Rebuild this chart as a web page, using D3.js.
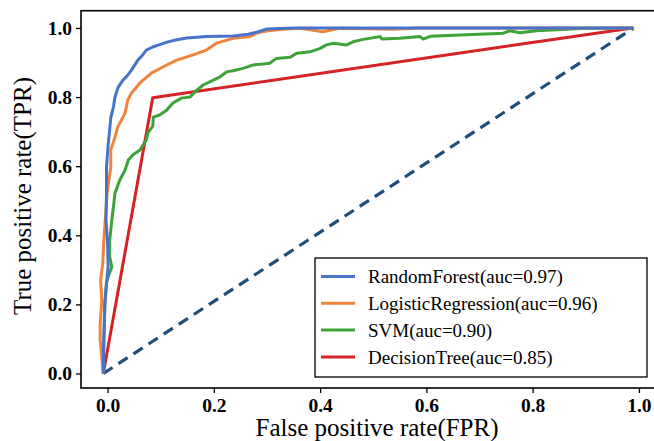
<!DOCTYPE html>
<html>
<head>
<meta charset="utf-8">
<title>ROC</title>
<style>
  html, body { margin: 0; padding: 0; background: #fff; }
  svg { display: block; }
</style>
<script src="https://d3js.org/d3.v7.min.js"></script>
</head>
<body>
<svg id="chart"></svg>
<script>
// values: [fpr, tpr]
const randomForest = [
  [-0.008, 0], [-0.008, 0.05], [-0.006, 0.15], [-0.005, 0.2], [-0.002, 0.26], [0.001, 0.31],
  [0.0, 0.38], [-0.003, 0.444], [-0.002, 0.52], [-0.002, 0.597], [-0.001, 0.618], [0.001, 0.66],
  [0.004, 0.705], [0.006, 0.74], [0.011, 0.771], [0.014, 0.80], [0.020, 0.829], [0.029, 0.849],
  [0.036, 0.86], [0.045, 0.878], [0.057, 0.907], [0.065, 0.92], [0.073, 0.936], [0.085, 0.945],
  [0.098, 0.952], [0.112, 0.959], [0.130, 0.966], [0.149, 0.971], [0.187, 0.975], [0.236, 0.977],
  [0.265, 0.982], [0.281, 0.988], [0.30, 0.997], [0.35, 1.0], [0.99, 1.0]
];
const logisticRegression = [
  [-0.008, 0], [-0.014, 0.097], [-0.014, 0.14], [-0.011, 0.21], [-0.013, 0.27], [-0.009, 0.32],
  [-0.007, 0.386], [-0.003, 0.473], [-0.001, 0.522], [0.006, 0.597], [0.006, 0.647], [0.014, 0.684],
  [0.019, 0.713], [0.033, 0.754], [0.038, 0.792], [0.045, 0.812], [0.061, 0.841], [0.083, 0.870],
  [0.104, 0.887], [0.130, 0.907], [0.161, 0.922], [0.186, 0.936], [0.205, 0.956], [0.236, 0.970],
  [0.268, 0.975], [0.280, 0.985], [0.299, 0.991], [0.33, 0.996], [0.362, 0.999], [0.405, 0.989],
  [0.437, 0.999], [0.537, 0.996], [0.588, 1.0], [0.99, 1.0]
];
const svm = [
  [-0.008, 0], [-0.007, 0.096], [-0.005, 0.212], [-0.002, 0.262], [0.001, 0.279], [0.008, 0.308],
  [0.004, 0.337], [0.004, 0.386], [0.008, 0.444], [0.011, 0.482], [0.014, 0.522], [0.023, 0.560],
  [0.033, 0.589], [0.039, 0.618], [0.048, 0.633], [0.061, 0.647], [0.073, 0.676], [0.076, 0.697],
  [0.085, 0.715], [0.086, 0.742], [0.098, 0.748], [0.111, 0.762], [0.123, 0.783], [0.139, 0.797],
  [0.155, 0.800], [0.168, 0.820], [0.180, 0.835], [0.199, 0.849], [0.211, 0.858], [0.224, 0.873],
  [0.236, 0.876], [0.255, 0.883], [0.274, 0.893], [0.293, 0.896], [0.305, 0.898], [0.318, 0.912],
  [0.343, 0.915], [0.356, 0.927], [0.381, 0.931], [0.40, 0.941], [0.412, 0.951], [0.425, 0.956],
  [0.45, 0.951], [0.462, 0.960], [0.481, 0.967], [0.513, 0.975], [0.516, 0.968], [0.55, 0.970],
  [0.588, 0.975], [0.594, 0.968], [0.607, 0.976], [0.745, 0.985], [0.757, 0.992], [0.776, 0.986],
  [0.807, 0.992], [0.902, 0.999], [0.989, 1.0]
];
const decisionTree = [[-0.008, 0], [0.085, 0.798], [0.988, 1.0]];
const chance = [[-0.008, 0], [0.99, 1.0]];

const modelNames = ["RandomForest(auc=0.97)", "LogisticRegression(auc=0.96)", "SVM(auc=0.90)", "DecisionTree(auc=0.85)"];
const modelColors = ["#4873cc", "#f0843c", "#3da337", "#d62222"];
const curves = [randomForest, logisticRegression, svm, decisionTree];
const xTicks = [0, 0.2, 0.4, 0.6, 0.8, 1.0];
const yTicks = [0, 0.2, 0.4, 0.6, 0.8, 1.0];

const serif = "'Liberation Serif', 'Times New Roman', Times, serif";
const width = 654, height = 441;
const svg = d3.select("#chart").attr("width", width).attr("height", height)
  .style("font-family", serif);

const x = d3.scaleLinear().domain([-0.05, 1.05]).range([81, 665.5]);
const y = d3.scaleLinear().domain([-0.042, 1.05]).range([388, 10.7]);

const line = d3.line().x(d => x(d[0])).y(d => y(d[1]));

// diagonal
svg.append("path")
  .datum(chance)
  .attr("d", line)
  .attr("fill", "none")
  .attr("stroke", "#1f4e79")
  .attr("stroke-width", 3.2)
  .attr("stroke-dasharray", "11,7");

// draw red, green, orange, blue so blue sits on top
[3, 2, 1, 0].forEach(i => {
  svg.append("path")
    .datum(curves[i])
    .attr("d", line)
    .attr("fill", "none")
    .attr("stroke", modelColors[i])
    .attr("stroke-width", 3)
    .attr("stroke-linejoin", "round");
});

// frame
svg.append("rect")
  .attr("x", x.range()[0]).attr("y", y.range()[1])
  .attr("width", x.range()[1] - x.range()[0])
  .attr("height", y.range()[0] - y.range()[1])
  .attr("fill", "none").attr("stroke", "#000").attr("stroke-width", 1.6);

const xAxis = svg.append("g")
  .attr("transform", "translate(0," + y.range()[0] + ")")
  .call(d3.axisBottom(x).tickValues(xTicks).tickFormat(d3.format(".1f")).tickSize(5).tickPadding(5));
const yAxis = svg.append("g")
  .attr("transform", "translate(" + x.range()[0] + ",0)")
  .call(d3.axisLeft(y).tickValues(yTicks).tickFormat(d3.format(".1f")).tickSize(5).tickPadding(4));

[xAxis, yAxis].forEach(g => {
  g.attr("font-family", serif);
  g.select(".domain").remove();
  g.selectAll(".tick line").attr("stroke", "#000").attr("stroke-width", 1.3);
  g.selectAll(".tick text")
    .style("font-family", serif)
    .attr("fill", "#000")
    .attr("font-size", "19.5px")
    .attr("font-weight", "bold");
});

svg.append("text")
  .attr("x", 377).attr("y", 436)
  .attr("text-anchor", "middle")
  .style("font-family", serif)
  .attr("font-size", "25px")
  .text("False positive rate(FPR)");

svg.append("text")
  .attr("transform", "translate(31,196) rotate(-90)")
  .attr("text-anchor", "middle")
  .style("font-family", serif)
  .attr("font-size", "25px")
  .text("True positive rate(TPR)");

// legend
const legend = svg.append("g").attr("transform", "translate(315,258)");
legend.append("rect")
  .attr("width", 332).attr("height", 119)
  .attr("fill", "#fff").attr("stroke", "#000").attr("stroke-width", 1.3);
modelNames.forEach((name, i) => {
  const yy = 18.5 + i * 26.8;
  legend.append("line")
    .attr("x1", 6).attr("x2", 40).attr("y1", yy).attr("y2", yy)
    .attr("stroke", modelColors[i]).attr("stroke-width", 3);
  legend.append("text")
    .attr("x", 53).attr("y", yy)
    .attr("dy", "0.35em")
    .style("font-family", serif)
    .attr("font-size", "19px")
    .text(name);
});
</script>
</body>
</html>
